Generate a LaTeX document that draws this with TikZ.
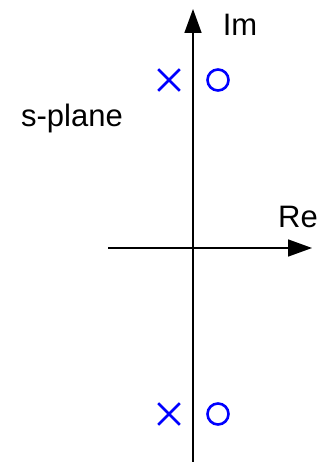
\documentclass[tikz,border=0pt]{standalone}
\usepackage{fontspec}
\setmainfont{Liberation Sans}
\usetikzlibrary{arrows.meta,positioning,shapes.misc}
\tikzset{
  axis/.style={-{Triangle[length=24pt,width=17pt]}, line width=1.6pt},
  pole/.style={draw=blue, cross out, line width=2.6pt, minimum size=19pt, inner sep=0pt},
  zero/.style={draw=blue, circle, line width=2.6pt, minimum size=21pt, inner sep=0pt},
  axlabel/.style={font=\fontsize{31}{37}\selectfont, inner sep=0pt, anchor=base}
}

\begin{document}
\begin{tikzpicture}[x=1pt, y=-1pt]
  \useasboundingbox (0,0) rectangle (322,462);
  \coordinate (im0) at (193,462);
  \coordinate (im1) at (193,9);
  \coordinate (re0) at (108,248);
  \coordinate (re1) at (312,248);
  \draw[axis] (im0) -- (im1);
  \draw[axis] (re0) -- (re1);
  \node[axlabel] (imlab) at (240,36) {Im};
  \node[axlabel] (relab) at (298,227) {Re};
  \node[axlabel] (plane) at (72,127) {s-plane};
  \node[pole] (p1) at (169,80) {};
  \node[zero] (z1) at (218,80) {};
  \node[pole] (p2) at (169,414) {};
  \node[zero] (z2) at (218,414) {};
\end{tikzpicture}
\end{document}
